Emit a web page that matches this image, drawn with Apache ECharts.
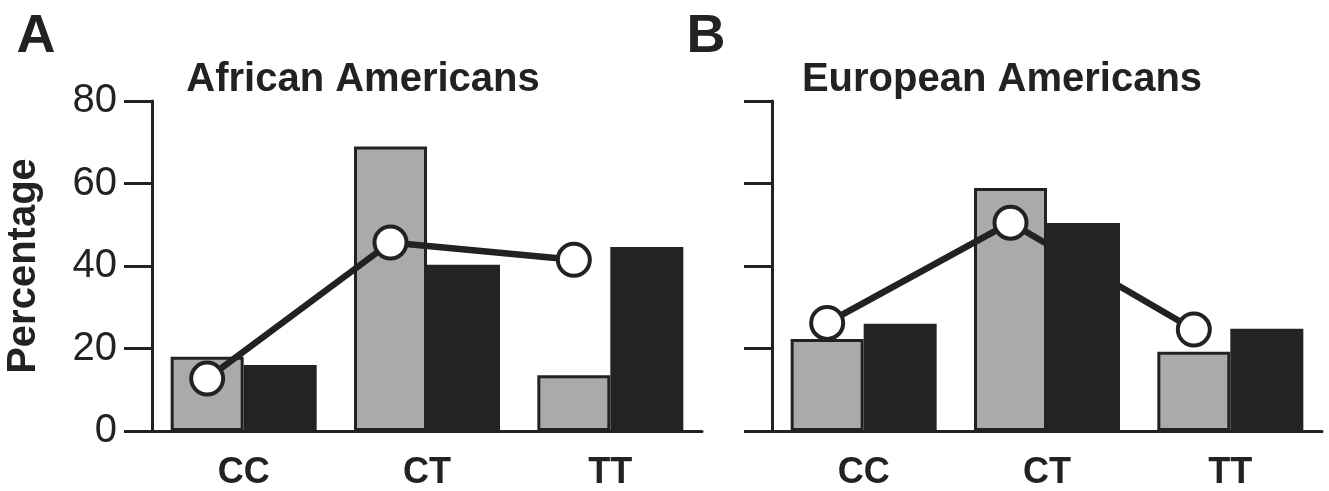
<!DOCTYPE html>
<html>
<head>
<meta charset="utf-8">
<script src="https://cdn.jsdelivr.net/npm/echarts@6/dist/echarts.min.js"></script>
<style>
  html, body { margin: 0; padding: 0; background: #fff; }
  #chart { width: 1329px; height: 491px; }
</style>
</head>
<body>
<div id="chart"></div>
<script>
// ---- data ----
const categories = ['CC', 'CT', 'TT'];
const yTickValues = [0, 20, 40, 60, 80];
const panelLetters = ['A', 'B'];
const panelTitles = ['African Americans', 'European Americans'];
const yAxisTitle = 'Percentage';

// Panel A: African Americans
const aaGray = [18, 69, 13.5];
const aaBlack = [16, 40.3, 44.6];
const aaLine = [12.7, 45.7, 41.5];

// Panel B: European Americans
const eaGray = [22.3, 58.9, 19.2];
const eaBlack = [26, 50.4, 24.8];
const eaLine = [26.2, 50.5, 24.6];

// ---- style / layout ----
const FONT = "'Liberation Sans', Arial, Helvetica, sans-serif";
const INK = '#222222';
const GRAY = '#aaaaaa';
const DARK = '#232323';
const GRID_W = 550, GRID_H = 331, GRID_TOP = 101;
const GRID_LEFTS = [152, 772];
const BAR_W = 73;
const BAND = GRID_W / categories.length;
const GRAY_SHIFT = (BAR_W / 2) / BAND; // gray bar centre relative to category centre, in category units

const chart = echarts.init(document.getElementById('chart'), null, { renderer: 'canvas' });

const grids = GRID_LEFTS.map(l => ({ left: l, top: GRID_TOP, width: GRID_W, height: GRID_H, containLabel: false }));

const catAxes = [0, 1].map(g => ({
  type: 'category', gridIndex: g, data: categories,
  boundaryGap: true,
  axisLine: { show: true, onZero: false, lineStyle: { color: INK, width: 3 } },
  axisTick: { show: false },
  axisLabel: { color: INK, fontSize: 36, fontWeight: 'bold', fontFamily: FONT, margin: 24 }
}));
const valXAxes = [0, 1].map(g => ({
  type: 'value', gridIndex: g, min: -0.5, max: categories.length - 0.5, show: false,
  axisLine: { onZero: false }
}));

const yAxes = [0, 1].map(g => ({
  type: 'value', gridIndex: g, min: yTickValues[0], max: yTickValues[yTickValues.length - 1], interval: 20,
  position: 'left',
  axisLine: { show: true, onZero: false, lineStyle: { color: INK, width: 3 } },
  axisTick: { show: true, inside: false, length: 28, lineStyle: { color: INK, width: 3 } },
  splitLine: { show: false },
  axisLabel: { show: g === 0, color: INK, fontSize: 40, fontFamily: FONT, margin: 35 },
  name: g === 0 ? yAxisTitle : '',
  nameLocation: 'middle', nameRotate: 90, nameGap: 108,
  nameTextStyle: { color: INK, fontSize: 40, fontWeight: 'bold', fontFamily: FONT }
}));

function panelSeries(g, gray, black, line) {
  return [
    { type: 'bar', name: 'gray', xAxisIndex: g, yAxisIndex: g, data: gray, barWidth: BAR_W, barGap: '0%', z: 2,
      itemStyle: { color: GRAY, borderColor: INK, borderWidth: 3 } },
    { type: 'bar', name: 'black', xAxisIndex: g, yAxisIndex: g, data: black, barWidth: BAR_W, barGap: '0%', z: 4,
      itemStyle: { color: DARK } },
    { type: 'line', name: 'line', xAxisIndex: 2 + g, yAxisIndex: g, z: 3,
      data: line.map((v, i) => [i - GRAY_SHIFT, v]),
      symbol: 'circle', symbolSize: 32,
      lineStyle: { color: INK, width: 6.5 },
      itemStyle: { color: '#ffffff', borderColor: INK, borderWidth: 4 } }
  ];
}

const graphics = [];
panelLetters.forEach((t, i) => {
  graphics.push({ type: 'text', x: [36, 706][i], y: 37, z: 10,
    style: { text: t, fill: INK, font: `bold 54px ${FONT}`, align: 'center', verticalAlign: 'middle', textAlign: 'center', textVerticalAlign: 'middle' } });
});
panelTitles.forEach((t, i) => {
  graphics.push({ type: 'text', x: [363, 1002][i], y: 80, z: 10,
    style: { text: t, fill: INK, font: `bold 40px ${FONT}`, align: 'center', verticalAlign: 'middle', textAlign: 'center', textVerticalAlign: 'middle' } });
});

chart.setOption({
  animation: false,
  backgroundColor: '#ffffff',
  grid: grids,
  xAxis: [...catAxes, ...valXAxes],
  yAxis: yAxes,
  series: [
    ...panelSeries(0, aaGray, aaBlack, aaLine),
    ...panelSeries(1, eaGray, eaBlack, eaLine)
  ],
  graphic: graphics
});
</script>
</body>
</html>
